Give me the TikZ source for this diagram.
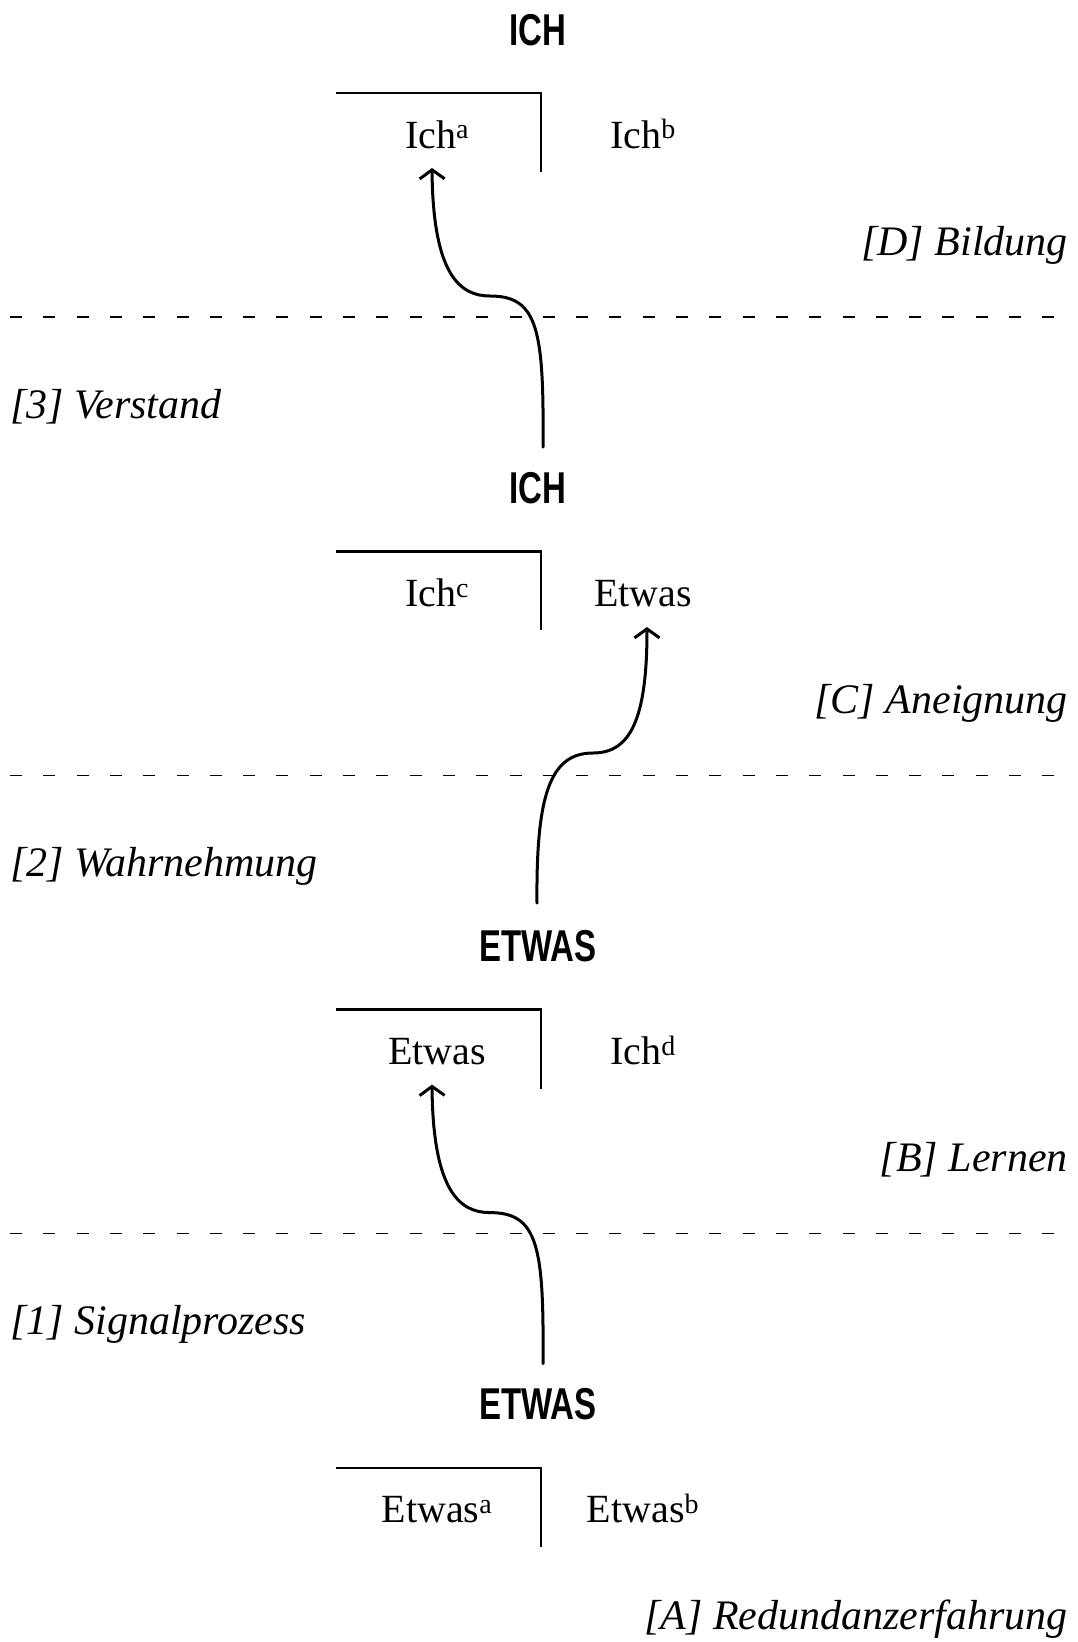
\documentclass[tikz,border=0pt]{standalone}
\usepackage{fontspec}
\usepackage{graphicx}
\setmainfont{Liberation Serif}
\newfontfamily\headfont{Liberation Sans}
\usetikzlibrary{arrows.meta}
\tikzset{
  head/.style={font=\headfont\bfseries\fontsize{44.6}{50}\selectfont, anchor=base, inner sep=0pt},
  word/.style={font=\fontsize{40}{48}\selectfont, anchor=base, inner sep=0pt},
  lblr/.style={font=\itshape\fontsize{42}{50}\selectfont, anchor=base east, inner sep=0pt},
  lbll/.style={font=\itshape\fontsize{42}{50}\selectfont, anchor=base west, inner sep=0pt},
  bracketline/.style={line width=2.6pt},
  sepline/.style={line width=1.6pt, dash pattern=on 12pt off 21.3pt},
  flow/.style={line width=3pt, -{Straight Barb[length=9pt,width=25pt]}, line cap=round}
}
\newcommand{\cond}[1]{\scalebox{0.74}[1]{#1}}
\begin{document}
\begin{tikzpicture}[x=1pt,y=-1pt]
\useasboundingbox (0,0) rectangle (1077,1642);

% ---------- block 1 ----------
\node[head] (h1) at (538,45) {\cond{ICH}};
\draw[bracketline] (336,93) -- (541,93) -- (541,172);
\node[word] (l1) at (437,148) {Ich\textsuperscript{a}};
\node[word] (r1) at (643,148) {Ich\textsuperscript{b}};
\node[lblr] (d1) at (1068,255) {[D] Bildung};
\draw[sepline] (10,317) -- (1062,317);
\node[lbll] (n3) at (10,418) {[3] Verstand};

% ---------- block 2 ----------
\node[head] (h2) at (538,503.3) {\cond{ICH}};
\draw[bracketline] (336,551.3) -- (541,551.3) -- (541,630.3);
\node[word] (l2) at (437,606.3) {Ich\textsuperscript{c}};
\node[word] (r2) at (643,606.3) {Etwas};
\node[lblr] (d2) at (1068,713.3) {[C] Aneignung};
\draw[sepline] (10,775.3) -- (1062,775.3);
\node[lbll] (n2) at (10,876.3) {[2] Wahrnehmung};

% ---------- block 3 ----------
\node[head] (h3) at (538,961.6) {\cond{ETWAS}};
\draw[bracketline] (336,1009.6) -- (541,1009.6) -- (541,1088.6);
\node[word] (l3) at (437,1064.6) {Etwas};
\node[word] (r3) at (643,1064.6) {Ich\textsuperscript{d}};
\node[lblr] (d3) at (1068,1171.6) {[B] Lernen};
\draw[sepline] (10,1233.6) -- (1062,1233.6);
\node[lbll] (n1) at (10,1334.6) {[1] Signalprozess};

% ---------- block 4 ----------
\node[head] (h4) at (538,1419.9) {\cond{ETWAS}};
\draw[bracketline] (336,1467.9) -- (541,1467.9) -- (541,1546.9);
\node[word] (l4) at (437,1522.9) {Etwas\textsuperscript{a}};
\node[word] (r4) at (643,1522.9) {Etwas\textsuperscript{b}};
\node[lblr] (d4) at (1068,1629.9) {[A] Redundanzerfahrung};

% ---------- arrows ----------
\coordinate (a1s) at (543,447);
\coordinate (a1e) at (432,168);
\draw[flow] (a1s) .. controls (544,330) and (538,296) .. (490,296)
                  .. controls (460,296) and (433,275) .. (a1e);

\coordinate (a2s) at (537,903);
\coordinate (a2e) at (647,627);
\draw[flow] (a2s) .. controls (536,795) and (550,753) .. (593,753)
                  .. controls (630,753) and (647,720) .. (a2e);

\coordinate (a3s) at (543,1363.6);
\coordinate (a3e) at (432,1084.6);
\draw[flow] (a3s) .. controls (544,1246.6) and (538,1212.6) .. (490,1212.6)
                  .. controls (460,1212.6) and (433,1191.6) .. (a3e);
\end{tikzpicture}
\end{document}
